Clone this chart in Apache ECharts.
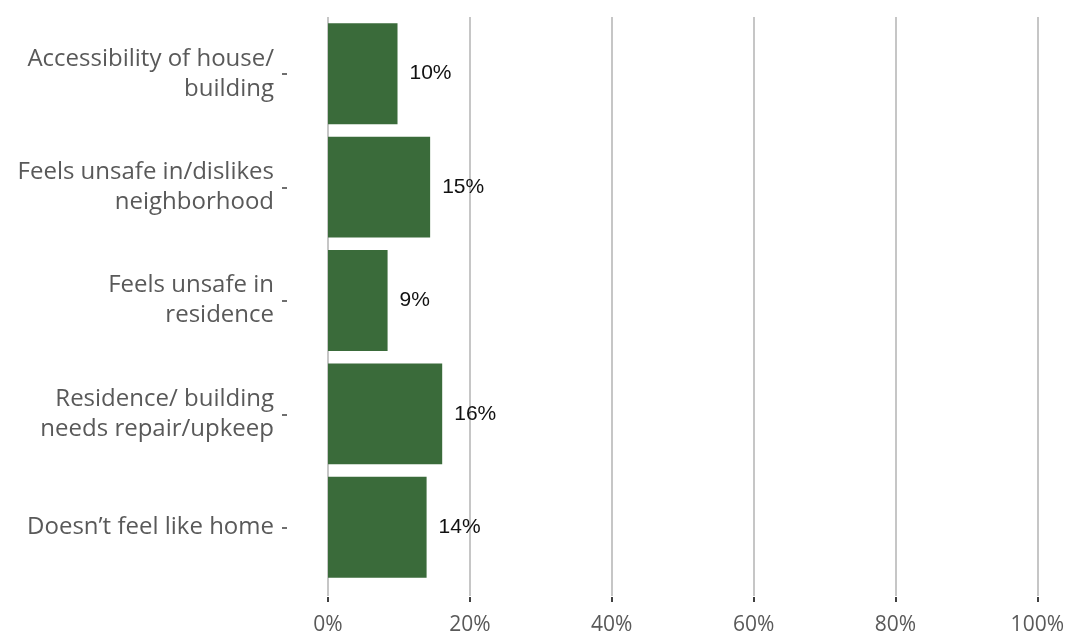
<!DOCTYPE html>
<html>
<head>
<meta charset="utf-8">
<script src="https://cdn.jsdelivr.net/npm/echarts@6/dist/echarts.min.js"></script>
<style>html,body{margin:0;padding:0;background:#fff;}#c{width:1067px;height:636px;}</style>
</head>
<body>
<div id="c"></div>
<script>
const categories = [
  "Accessibility of house/\nbuilding",
  "Feels unsafe in/dislikes\nneighborhood",
  "Feels unsafe in\nresidence",
  "Residence/ building\nneeds repair/upkeep",
  "Doesn\u2019t feel like home"
];
const values = [9.8, 14.4, 8.4, 16.1, 13.9];
const valueLabels = ["10%", "15%", "9%", "16%", "14%"];
const xTicks = [0, 20, 40, 60, 80, 100];

const chart = echarts.init(document.getElementById('c'));
const labelFont = 'Open Sans, Noto Sans, sans-serif';
chart.setOption({
  animation: false,
  grid: [
    { left: 328, right: 29, top: 17, bottom: 51, containLabel: false },
    { left: 287, width: 1, top: 17, bottom: 51, containLabel: false },
    { left: 328, right: 29, top: 17, bottom: 39, containLabel: false }
  ],
  xAxis: [{
    gridIndex: 0, type: 'value', min: 0, max: 100, interval: 20,
    axisLine: { show: false },
    axisTick: { show: true, length: 12, lineStyle: { color: '#c6c6c6', width: 2 } },
    splitLine: { show: true, lineStyle: { color: '#c6c6c6', width: 2 } },
    axisLabel: { margin: 31, color: '#595959', fontFamily: labelFont, fontSize: 21,
      formatter: v => xTicks.includes(v) ? v + '%' : '' }
  }, {
    gridIndex: 1, type: 'value', show: false
  }, {
    gridIndex: 2, type: 'value', min: 0, max: 100, interval: 20, position: 'bottom',
    axisLine: { show: false },
    axisTick: { show: true, length: 5, lineStyle: { color: '#404040', width: 2 } },
    splitLine: { show: false },
    axisLabel: { show: false }
  }],
  yAxis: [{
    gridIndex: 0, type: 'category', data: categories, inverse: true,
    axisLine: { show: false },
    axisTick: { show: false },
    axisLabel: { margin: 54, color: '#595959', fontFamily: labelFont, fontSize: 24, lineHeight: 30, align: 'right',
      padding: [10, 0, 0, 0] }
  }, {
    gridIndex: 1, type: 'category', data: categories, inverse: true, position: 'left',
    axisLine: { show: false },
    axisTick: { show: true, length: 5, alignWithLabel: true, lineStyle: { color: '#404040', width: 1.5 } },
    axisLabel: { show: false }
  }, {
    gridIndex: 2, type: 'value', show: false
  }],
  series: [{
    type: 'bar', data: values, xAxisIndex: 0, yAxisIndex: 0,
    barCategoryGap: '11%',
    itemStyle: { color: '#3a6b3a' },
    label: { show: true, position: 'right', distance: 12, color: '#111111',
      fontFamily: 'Liberation Sans, Arial, sans-serif', fontSize: 21,
      formatter: p => valueLabels[p.dataIndex] }
  }]
});
</script>
</body>
</html>
